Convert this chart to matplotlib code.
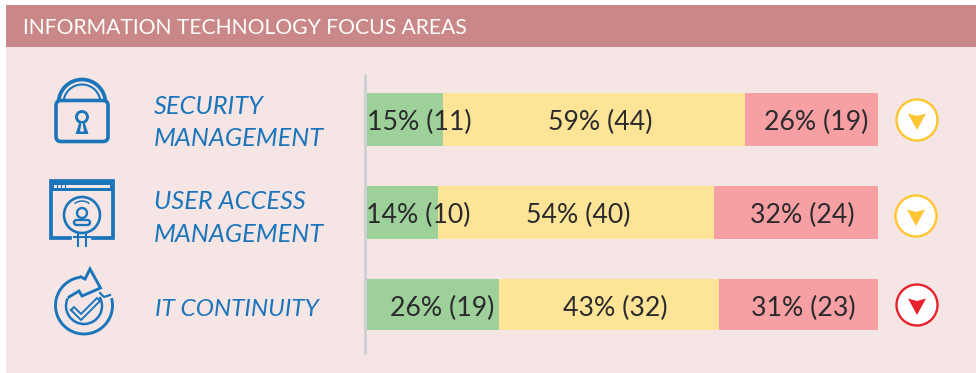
import numpy as np
import matplotlib
matplotlib.use("Agg")
import matplotlib.pyplot as plt
from matplotlib.patches import Rectangle, FancyBboxPatch, Circle, Polygon, Arc

# ---- data ----
title = "INFORMATION TECHNOLOGY FOCUS AREAS"
areas = ["SECURITY\nMANAGEMENT", "USER ACCESS\nMANAGEMENT", "IT CONTINUITY"]
green_pct = [15, 14, 26]
yellow_pct = [59, 54, 43]
red_pct = [26, 32, 31]
green_n = [11, 10, 19]
yellow_n = [44, 40, 32]
red_n = [19, 24, 23]
trend = ["down-amber", "down-amber", "down-red"]

# ---- layout ----
W, H = 976, 373
BLUE = "#1B75BB"
plt.rcParams["font.family"] = ["Lato", "DejaVu Sans"]
bar_tops = [93, 186, 279]
bar_bots = [146, 239, 330]
label_x = [(419.5, 600, 816), (418.5, 578, 802), (442, 615, 803)]
label_y = [122, 215, 308]
label_size = 19.2
area_x = [154, 154, 155]
area_y = [122.5, 218, 309]
area_size = [18.3, 18.3, 17.6]
badge_xy = [(917, 120), (916, 216), (917, 305)]
badge_col = {"down-amber": "#FDC52F", "down-red": "#E8212E"}

fig = plt.figure(figsize=(W / 100, H / 100), dpi=100, facecolor="white")
ax = fig.add_axes([0, 0, 1, 1])
ax.set_xlim(0, W)
ax.set_ylim(H, 0)
ax.axis("off")

ax.add_patch(Rectangle((6, 47), W - 6, H - 47, fc="#F5E6E5", ec="none"))
ax.add_patch(Rectangle((6, 5), W - 6, 42, fc="#C98887", ec="none"))
ax.text(23, 27.5, title, color="white", fontsize=15.2, va="center", ha="left")

# bars
bx = fig.add_axes([366 / W, 0, 512 / W, 1])
bx.patch.set_alpha(0)
bx.set_xlim(0, 100)
bx.set_ylim(H, 0)
bx.axis("off")
ys = [(t + b) / 2 for t, b in zip(bar_tops, bar_bots)]
hs = [b - t for t, b in zip(bar_tops, bar_bots)]
g = np.array(green_pct, float)
y_ = np.array(yellow_pct, float)
r = np.array(red_pct, float)
bx.barh(ys, g, height=hs, color="#9ED09A", linewidth=0)
bx.barh(ys, y_, left=g, height=hs, color="#FDE497", linewidth=0)
bx.barh(ys, r, left=g + y_, height=hs, color="#F7A0A3", linewidth=0)

ov = fig.add_axes([0, 0, 1, 1])
ov.patch.set_alpha(0)
ov.set_xlim(0, W)
ov.set_ylim(H, 0)
ov.axis("off")
ov.plot([365, 365], [74, 354], color="#CFCFD6", lw=2.2, solid_capstyle="butt")

for i in range(3):
    vals = [(green_pct[i], green_n[i]), (yellow_pct[i], yellow_n[i]), (red_pct[i], red_n[i])]
    for (p, n), x in zip(vals, label_x[i]):
        ov.text(x, label_y[i], f"{p}% ({n})", color="#2B2A2C", fontsize=label_size,
                ha="center", va="center")
    ov.text(area_x[i], area_y[i], areas[i], color=BLUE, fontsize=area_size[i], style="italic",
            ha="left", va="center", linespacing=1.5)
    cx, cy = badge_xy[i]
    c = badge_col[trend[i]]
    ov.add_patch(Circle((cx, cy), 20.5, fc="white", ec=c, lw=1.7))
    ov.add_patch(Polygon([(cx - 9, cy - 6.5), (cx, cy - 4), (cx + 9, cy - 6.5), (cx, cy + 10)],
                         closed=True, fc=c, ec="none"))

# ---- icons ----
LW = 2.1
# lock
ov.add_patch(Arc((82, 103), 47, 47, theta1=180, theta2=360, ec=BLUE, lw=LW + 0.6))
ov.add_patch(Arc((82, 103), 37, 37, theta1=180, theta2=360, ec=BLUE, lw=LW - 0.6))
ov.add_patch(FancyBboxPatch((56, 100.5), 52, 41, boxstyle="round,pad=0,rounding_size=5",
                            fc="#F5E6E5", ec=BLUE, lw=LW + 0.5))
ov.add_patch(Circle((82, 117), 5.5, fc="none", ec=BLUE, lw=LW))
ov.add_patch(Polygon([(79.5, 122), (84.5, 122), (88.5, 134), (75.5, 134)], closed=True,
                     fc=BLUE, ec="none"))
ov.add_patch(Polygon([(81.5, 123), (82.5, 123), (84, 131.5), (80, 131.5)], closed=True,
                     fc="#F5E6E5", ec="none"))

# user window
ov.plot([70, 50.5, 50.5, 112.5, 112.5, 93], [238, 238, 181, 181, 238, 238], color=BLUE,
        lw=LW + 0.6, solid_joinstyle="miter")
ov.add_patch(Rectangle((50, 181), 63, 10, fc=BLUE, ec="none"))
ov.add_patch(Rectangle((53.5, 184.5), 56, 3.2, fc="#F5E6E5", ec="none"))
for x in (57, 61, 65):
    ov.plot([x, x], [184.5, 187.7], color=BLUE, lw=0.8)
ov.add_patch(Circle((82, 215), 18, fc="none", ec=BLUE, lw=LW - 0.2))
ov.add_patch(Circle((82, 213), 5, fc="none", ec=BLUE, lw=LW - 0.4))
ov.add_patch(FancyBboxPatch((74, 220), 16, 5, boxstyle="round,pad=0,rounding_size=2.5",
                            fc="none", ec=BLUE, lw=LW - 0.4))
ov.add_patch(Arc((82, 211), 22, 20, theta1=225, theta2=315, ec=BLUE, lw=1.1))
ov.plot([78, 78], [234, 246], color=BLUE, lw=1.5)
ov.plot([86, 86], [234, 246], color=BLUE, lw=1.5)
ov.plot([74, 90], [237, 237], color=BLUE, lw=1.5)

# continuity
ov.add_patch(Arc((84, 305.5), 57, 57, theta1=-15, theta2=262, ec=BLUE, lw=LW))
ov.add_patch(Arc((84, 306), 36, 36, theta1=-30, theta2=205, ec=BLUE, lw=LW - 0.3))
ov.plot([81, 85, 90, 100.5, 82, 79, 69],
        [277, 279, 269, 288, 296, 291, 297], color=BLUE, lw=LW, solid_joinstyle="miter")
ov.plot([110, 104, 100], [295, 297, 293], color=BLUE, lw=LW - 0.5)
ov.plot([71, 81, 100, 97, 81, 74, 71], [310, 320, 301, 298, 314, 307, 310], color=BLUE, lw=1.4)

fig.savefig("out.png", dpi=100, facecolor="white")
